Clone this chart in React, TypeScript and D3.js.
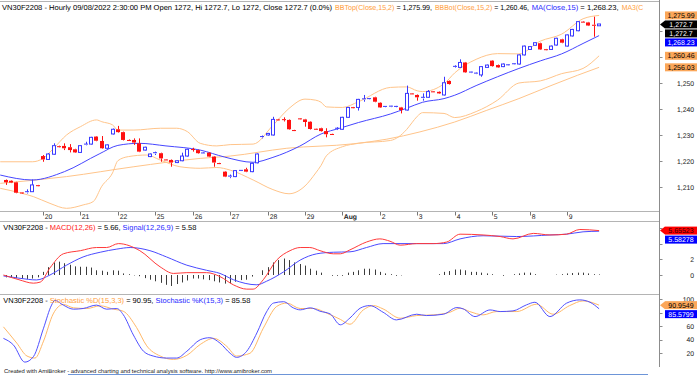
import React, { useLayoutEffect, useRef, useState } from "react";
import * as d3 from "d3";

const FONT = "'Liberation Sans', Arial, Helvetica, sans-serif";

// ---------- candles (hourly, 7 bars per day) ----------
const openP = [
  1212.7, 1212.4, 1211.8, 1207.9, 1207.9, 1208.2, 1210.7,
  1221.9, 1220.6, 1222.6, 1225.7, 1225.8, 1225.3, 1224.5,
  1223.3, 1226.2, 1226.5, 1229.4, 1227.7, 1224.9, 1230.4,
  1232.2, 1231.1, 1228.1, 1228.1, 1226.8, 1224.2, 1221.7,
  1222.8, 1223.0, 1220.6, 1220.4, 1219.4, 1220.1, 1221.9,
  1224.6, 1224.2, 1222.9, 1223.2, 1221.7, 1219.2, 1215.9,
  1213.8, 1214.0, 1216.2, 1216.8, 1215.9, 1219.3, 1229.0,
  1230.0, 1230.0, 1236.0, 1236.1, 1235.8, 1231.9, 1236.4,
  1236.0, 1235.1, 1232.4, 1232.6, 1231.5, 1230.4, 1232.3,
  1232.2, 1236.8, 1240.7, 1240.6, 1243.7, 1243.8, 1244.5,
  1242.4, 1240.8, 1240.9, 1240.9, 1240.6, 1239.6, 1246.0,
  1245.4, 1244.0, 1244.5, 1246.8, 1246.6, 1245.4, 1250.8,
  1256.1, 1256.0, 1257.9, 1254.0, 1253.6, 1253.1, 1256.0,
  1258.6, 1256.9, 1256.3, 1256.8, 1257.2, 1257.3, 1260.8,
  1262.9, 1264.5, 1265.3, 1263.0, 1262.9, 1264.6, 1266.8,
  1264.2, 1268.1, 1270.1, 1273.6, 1273.3, 1272.4, 1272.0,
];
const highP = [
  1212.9, 1212.6, 1212.0, 1208.0, 1209.1, 1212.9, 1210.8,
  1222.3, 1223.0, 1226.8, 1225.9, 1226.8, 1226.5, 1224.7,
  1226.1, 1227.4, 1229.3, 1229.6, 1229.6, 1226.4, 1232.5,
  1233.5, 1231.3, 1228.3, 1228.7, 1228.7, 1225.5, 1222.9,
  1223.6, 1223.2, 1220.7, 1220.6, 1220.3, 1223.2, 1224.7,
  1225.1, 1224.4, 1223.3, 1223.4, 1221.9, 1219.3, 1216.1,
  1214.8, 1216.5, 1216.5, 1217.4, 1219.3, 1222.9, 1229.8,
  1230.8, 1237.0, 1236.2, 1236.8, 1236.0, 1232.0, 1236.5,
  1236.2, 1235.3, 1232.5, 1232.8, 1232.6, 1230.5, 1233.0,
  1237.0, 1240.8, 1240.8, 1243.9, 1245.4, 1244.1, 1244.7,
  1242.6, 1241.1, 1241.2, 1241.2, 1240.8, 1249.0, 1246.1,
  1245.6, 1246.0, 1247.3, 1246.9, 1246.8, 1252.4, 1251.0,
  1256.8, 1259.1, 1258.1, 1254.3, 1254.0, 1256.5, 1257.1,
  1258.8, 1257.1, 1257.5, 1257.1, 1257.5, 1261.0, 1264.4,
  1264.2, 1265.7, 1265.5, 1263.1, 1264.4, 1267.4, 1267.0,
  1268.7, 1270.8, 1273.8, 1273.8, 1273.5, 1275.5, 1272.7,
];
const lowP = [
  1210.8, 1211.5, 1207.6, 1207.7, 1207.5, 1208.1, 1210.4,
  1219.7, 1220.4, 1222.4, 1225.2, 1224.2, 1223.3, 1223.1,
  1223.1, 1226.0, 1226.3, 1227.6, 1224.7, 1224.7, 1230.2,
  1230.9, 1227.9, 1227.8, 1226.2, 1223.4, 1224.0, 1221.5,
  1222.3, 1219.7, 1220.2, 1217.8, 1219.2, 1219.9, 1221.7,
  1223.6, 1222.8, 1222.7, 1221.5, 1217.8, 1218.9, 1213.8,
  1213.4, 1213.8, 1216.0, 1215.7, 1215.7, 1219.1, 1228.7,
  1229.8, 1229.8, 1235.7, 1235.2, 1232.0, 1231.5, 1236.1,
  1233.2, 1232.1, 1232.1, 1231.3, 1229.1, 1230.1, 1231.9,
  1232.0, 1236.6, 1240.4, 1239.4, 1242.8, 1243.7, 1242.6,
  1240.4, 1240.7, 1240.8, 1240.7, 1238.3, 1239.4, 1245.6,
  1243.2, 1243.2, 1244.3, 1246.4, 1245.8, 1245.2, 1249.4,
  1255.8, 1255.8, 1253.9, 1253.9, 1253.5, 1252.4, 1255.8,
  1256.3, 1255.8, 1256.1, 1256.7, 1257.1, 1257.1, 1260.6,
  1262.7, 1264.3, 1262.7, 1262.7, 1262.7, 1264.4, 1265.3,
  1264.0, 1267.9, 1269.9, 1273.2, 1271.9, 1267.8, 1272.0,
];
const closeP = [
  1211.8, 1211.7, 1207.8, 1207.8, 1208.2, 1210.8, 1210.4,
  1220.6, 1222.7, 1225.9, 1225.4, 1224.9, 1224.2, 1223.3,
  1225.9, 1226.5, 1229.1, 1227.8, 1224.9, 1226.2, 1232.2,
  1231.1, 1228.1, 1228.0, 1227.1, 1223.6, 1225.3, 1222.7,
  1223.2, 1221.0, 1220.4, 1219.4, 1220.1, 1221.9, 1224.5,
  1224.3, 1223.0, 1223.1, 1221.7, 1219.4, 1219.0, 1214.0,
  1214.2, 1216.3, 1216.4, 1215.9, 1219.1, 1222.7, 1229.4,
  1230.6, 1236.0, 1235.8, 1235.8, 1232.2, 1231.7, 1236.2,
  1235.0, 1232.3, 1232.2, 1231.5, 1230.3, 1230.2, 1232.6,
  1236.8, 1240.6, 1240.5, 1243.7, 1243.9, 1244.0, 1242.8,
  1240.6, 1241.0, 1241.1, 1241.0, 1239.6, 1246.0, 1245.8,
  1244.5, 1244.5, 1246.7, 1246.6, 1246.0, 1250.1, 1249.6,
  1256.4, 1257.9, 1254.1, 1254.2, 1253.8, 1256.3, 1256.9,
  1256.5, 1256.0, 1257.3, 1257.0, 1257.4, 1260.8, 1264.2,
  1264.0, 1265.5, 1262.9, 1262.8, 1264.2, 1267.2, 1265.5,
  1268.5, 1270.6, 1273.6, 1273.4, 1272.1, 1272.2, 1272.7,
];

const dayLabels = ["20", "21", "22", "25", "26", "27", "28", "29", "Aug", "2", "3", "4", "5", "8", "9"];
const BARS_PER_DAY = 7;

// ---------- overlays: [bar index, value] ----------
const bbTop: [number, number][] = [
  [-1, 1219.7], [5, 1219.7], [7, 1221.0], [9, 1224.9], [11.4, 1230.0], [14, 1233.2], [17, 1235.8],
  [18, 1235.1], [20, 1233.9], [21, 1231.9], [24, 1231.9], [29, 1232.6], [32, 1232.6], [34, 1231.3],
  [36.4, 1226.8], [39.5, 1225.8], [42, 1226.3], [46.3, 1226.5], [50, 1233.7], [53, 1240.2],
  [56, 1243.8], [58, 1243.4], [59, 1242.6], [60, 1240.8], [63, 1240.6], [66, 1242.8], [72, 1248.3],
  [75, 1248.5], [77, 1247.0], [78, 1246.7], [82, 1249.7], [84, 1253.9], [88, 1259.1], [92, 1261.3],
  [96, 1261.2], [100, 1266.1], [104, 1268.8], [108, 1274.7], [111, 1275.99],
];
const bbBot: [number, number][] = [
  [-1, 1209.5], [3, 1207.6], [5.2, 1206.3], [8.3, 1203.7], [11.4, 1201.8], [14.5, 1203.1],
  [16.4, 1204.4], [18, 1210.3], [20, 1215.4], [21, 1220.1], [23, 1221.7], [26.4, 1222.3],
  [28.9, 1220.4], [32.6, 1217.8], [36.4, 1217.2], [39.5, 1217.5], [42, 1216.5], [46.3, 1212.7],
  [50, 1209.0], [53, 1207.4], [56, 1210.4], [58, 1215.4], [59, 1218.3], [60, 1222.0], [63, 1225.5],
  [66, 1226.8], [72, 1227.9], [75, 1232.1], [76, 1234.7], [77, 1237.2], [78, 1238.6], [82, 1238.3],
  [84, 1236.7], [88, 1239.0], [92, 1243.4], [96, 1250.0], [100, 1250.8], [104, 1253.6],
  [108, 1255.6], [111, 1260.46],
];
const ma15: [number, number][] = [
  [-1, 1214.6], [5, 1212.7], [11, 1215.9], [17.5, 1222.7], [21, 1226.0], [25, 1226.8], [30, 1225.8],
  [36.4, 1224.2], [41, 1221.5], [46.3, 1219.5], [50, 1221.4], [55, 1225.7], [59, 1230.4],
  [62.5, 1232.6], [66, 1234.8], [72, 1238.1], [75, 1240.3], [78, 1242.6], [82, 1244.0],
  [84, 1245.3], [88, 1249.0], [92, 1252.4], [96, 1255.6], [100, 1258.5], [104, 1261.2],
  [108, 1265.2], [111, 1268.23],
];
const ma3: [number, number][] = [
  [-1, 1211.4], [11.4, 1214.0], [24, 1217.8], [36.4, 1221.0], [42, 1221.9], [52.6, 1224.9],
  [65, 1226.6], [71.3, 1228.4], [77.5, 1231.2], [84, 1235.0], [90, 1239.5], [96, 1244.0],
  [102, 1249.0], [107, 1253.0], [111, 1256.03],
];

// ---------- MACD ----------
const macdLine: [number, number][] = [
  [-0.4, 0], [2.5, -0.6], [5.2, -1.04], [6.5, -0.9], [8.3, 0.9], [10.8, 2.7], [14, 3.1], [17, 3.5],
  [18.9, 3.5], [21.1, 4.0], [25.1, 3.1], [28.9, 1.04], [31.4, 0.2], [33.9, 0.3], [37.6, 0.3],
  [40.1, -0.2], [42.6, -1.25], [45.1, -1.8], [46.3, -1.8], [48.2, -0.6], [50.7, 1.9], [53.2, 3.1],
  [55.1, 3.5], [56.9, 3.5], [58.8, 3.1], [61.3, 2.7], [62.6, 2.7], [64.4, 3.2], [67.5, 4.2],
  [70, 4.6], [71.9, 4.3], [73.8, 3.8], [76.9, 4.0], [80, 4.0], [82.5, 4.2], [85, 5.2], [89.3, 5.1],
  [92.5, 4.9], [94.9, 4.6], [98.7, 5.3], [101.8, 5.1], [104.9, 5.2], [107.4, 5.8], [111, 5.655],
];
const signalLine: [number, number][] = [
  [-0.4, -0.12], [2.7, -0.42], [5.8, -0.63], [8.3, 0], [11.4, 1.25], [14.5, 2.3], [17.7, 2.9],
  [20.8, 3.3], [23.3, 3.5], [27, 3.1], [30.1, 2.3], [33.9, 1.25], [37.6, 0.6], [40.1, 0.2],
  [42.6, -0.6], [47, -1.25], [48.8, -0.8], [52, 0.4], [55.1, 1.9], [58.2, 2.7], [61.3, 2.9],
  [64.4, 2.95], [67.5, 3.5], [70.6, 4.0], [76.9, 4.0], [81.9, 4.0], [85, 4.6], [89.3, 5.0],
  [95.6, 4.9], [101.8, 5.1], [104.9, 5.2], [108, 5.5], [111, 5.58],
];
const macdHist = [
  -0.3, -0.3, -0.4, -0.45, -0.5, -0.45, -0.3,
  0.4, 1.0, 1.6, 1.7, 1.5, 1.3, 1.1,
  1.05, 1.05, 0.95, 0.6, 0.55, 0.4, 0.6,
  0.55, 0.2, 0.1, -0.05, -0.15, -0.4, -0.6,
  -0.8, -1.0, -1.25, -1.4, -1.15, -0.95, -0.7,
  -0.45, -0.45, -0.55, -0.65, -0.8, -0.95, -1.1,
  -1.05, -0.85, -0.65, -0.6, -0.2, 0.0, 0.6,
  1.0, 1.6, 1.9, 2.1, 1.9, 1.6, 1.4,
  1.2, 0.8, 0.55, 0.3, 0.0, -0.1, -0.1,
  -0.1, 0.3, 0.4, 0.6, 0.8, 0.8, 0.7,
  0.4, 0.2, 0.1, -0.1, -0.05, 0.0, 0.0,
  0.0, 0.0, 0.0, 0.0, 0.1, 0.4, 0.5,
  0.7, 0.7, 0.6, 0.4, 0.4, 0.3, 0.2,
  0.1, 0.0, -0.1, 0.0, 0.1, 0.2, 0.3,
  0.3, 0.1, 0.0, 0.0, 0.0, 0.05, 0.1,
  0.2, 0.25, 0.3, 0.3, 0.2, 0.1, 0.07,
];

// ---------- Stochastic ----------
const stochK: [number, number][] = [
  [-0.4, 42], [1.5, 32], [3.6, 7], [5.2, 15], [7.1, 57], [8.6, 91], [9.2, 98], [10.8, 91],
  [12.7, 85], [14.5, 86], [17, 91], [18.9, 85], [20.8, 86], [22, 77], [23.9, 47], [25.8, 23],
  [27.6, 16], [30.1, 13], [32, 13], [33.9, 23], [36.4, 40], [38.2, 43], [40.1, 35], [42, 20],
  [43.2, 14], [45.1, 23], [47, 50], [48.8, 81], [50.1, 94], [52, 96], [53.8, 87], [55.1, 84],
  [57, 87], [58.8, 82], [60.7, 78], [62.6, 62], [64.4, 72], [66.3, 86.4], [68.1, 90.3],
  [70.6, 80.5], [73.1, 69.2], [76.9, 77.6], [78.7, 75.6], [81.9, 77.6], [84.4, 87.4],
  [85.6, 85.4], [87.8, 74.1], [90.6, 83.9], [92.5, 81.5], [94.9, 82.5], [97.4, 91.3],
  [99, 95.2], [101.8, 74.1], [104.9, 93.8], [107.4, 98.7], [109.3, 95.2], [111, 85.58],
];
const stochD: [number, number][] = [
  [-0.4, 59], [2.1, 35], [4, 16], [5.5, 13], [7.1, 38], [8.9, 78], [10.8, 92], [12.7, 87],
  [15.2, 86], [17.7, 90], [20.2, 85], [22, 82], [24.5, 58], [26.4, 31], [28.9, 16], [31.4, 11],
  [33.9, 17], [36.4, 33], [38.9, 42], [41.4, 30], [43.2, 16], [45.7, 20], [48.2, 57], [50.7, 89],
  [52.6, 94], [55.1, 86], [57.6, 86], [60.1, 79], [62.6, 70], [64.4, 62.8], [66.9, 83.9],
  [68.8, 90.3], [70.6, 85.4], [73.8, 71.7], [76.9, 75.6], [80, 76.6], [83.1, 80.5], [85, 86.4],
  [86.8, 81.5], [89.3, 76.6], [91.8, 81.5], [95.6, 81.5], [99.3, 92.3], [102.4, 77.6],
  [105.5, 90.3], [108, 97.2], [111, 90.95],
];

const priceTicks = [1210, 1220, 1230, 1240, 1250, 1260, 1270];
const priceTickLabels = [1210, 1220, 1230, 1240, 1250];
const macdTicks = [0, 2, 4, 6];
const macdTickLabels = [0, 2];
const stochTicks = [20, 40, 60, 80, 100];
const stochTickLabels = [20, 40, 60, 100];

// ---------- colours ----------
const UP = "#3a3aff";
const DOWN = "#ff1010";
const ORANGE_LINE = "#ffc48a";
const BLUE_LINE = "#4646ff";
const T_ORANGE = "#ffa040";
const T_BLUE = "#2a2aff";
const T_RED = "#ff2020";
const GRID = "#b4b4b4";
const AX = "#8c8c8c";

const AXIS_X = 659.5;

type Lbl = { v: number; text: string; bg: string; fg: string; arrow?: boolean };

function stack(labels: Lbl[], scale: (v: number) => number, gap: number) {
  const out: { y: number; l: Lbl }[] = [];
  let prev = -Infinity;
  labels.forEach((l) => {
    let y = scale(l.v);
    if (y < prev + gap) y = prev + gap;
    out.push({ y, l });
    prev = y;
  });
  return out;
}

function ValueLabels({ items }: { items: { y: number; l: Lbl }[] }) {
  return (
    <g>
      {items.map(({ y, l }, k) => (
        <g key={k}>
          {l.arrow && <polygon points={`${AXIS_X + 0.5},${y} ${665},${y - 4} ${665},${y + 4}`} fill={l.bg} />}
          <rect x={665} y={y - 4} width={32} height={8} fill={l.bg} />
          <text x={681} y={y + 2.6} textAnchor="middle" fontSize={7} fill={l.fg}>
            {l.text}
          </text>
        </g>
      ))}
    </g>
  );
}

// text stretched horizontally so that it spans the same width as in the reference
function FitText({
  x,
  y,
  width,
  fontSize,
  fill,
  children,
}: {
  x: number;
  y: number;
  width: number;
  fontSize: number;
  fill?: string;
  children: React.ReactNode;
}) {
  const ref = useRef<SVGTextElement>(null);
  const [s, setS] = useState(1);
  useLayoutEffect(() => {
    const el = ref.current;
    if (el) {
      const w = el.getComputedTextLength();
      if (w > 0) setS(width / w);
    }
  }, [width]);
  return (
    <text
      ref={ref}
      x={0}
      y={0}
      transform={`translate(${x},${y}) scale(${s},1)`}
      fontSize={fontSize}
      fill={fill}
      style={{ whiteSpace: "pre" }}
    >
      {children}
    </text>
  );
}

export default function App() {
  const x = d3.scaleLinear().domain([0, 111]).range([5.57, 599.1]);
  const yP = d3.scaleLinear().domain([1210, 1250]).range([187, 83]);
  const yM = d3.scaleLinear().domain([0, 2]).range([275, 259.3]);
  const yS = d3.scaleLinear().domain([20, 100]).range([353.3, 299]);

  const mk = (ys: d3.ScaleLinear<number, number>) =>
    d3
      .line<[number, number]>()
      .x((d) => x(d[0]))
      .y((d) => ys(d[1]))
      .curve(d3.curveMonotoneX);
  const lineP = mk(yP);
  const lineM = mk(yM);
  const lineS = mk(yS);

  const fmt = d3.format(",");

  const mainLabels = stack(
    [
      { v: 1275.99, text: "1,275.99", bg: "#fba75a", fg: "#000" },
      { v: 1272.7, text: "1,272.7", bg: "#000", fg: "#fff", arrow: true },
      { v: 1272.7, text: "1,272.7", bg: "#000", fg: "#fff" },
      { v: 1268.23, text: "1,268.23", bg: "#0000ff", fg: "#fff" },
      { v: 1260.46, text: "1,260.46", bg: "#fba75a", fg: "#000" },
      { v: 1256.03, text: "1,256.03", bg: "#fba75a", fg: "#000" },
    ],
    yP,
    9
  );
  const macdLabels = stack(
    [
      { v: 5.65523, text: "5.65523", bg: "#ff0000", fg: "#300000", arrow: true },
      { v: 5.58278, text: "5.58278", bg: "#0000ff", fg: "#fff" },
    ],
    yM,
    9
  );
  const stochLabels = stack(
    [
      { v: 90.9549, text: "90.9549", bg: "#fba75a", fg: "#000", arrow: true },
      { v: 85.5799, text: "85.5799", bg: "#0000ff", fg: "#fff" },
    ],
    yS,
    9
  );

  return (
    <svg
      width={700}
      height={376}
      style={{ position: "absolute", left: 0, top: 0, display: "block", background: "#fff" }}
      fontFamily={FONT}
      textRendering="geometricPrecision"
    >
      <defs>
        <clipPath id="cMain">
          <rect x={0} y={2} width={AXIS_X} height={209.5} />
        </clipPath>
        <clipPath id="cMacd">
          <rect x={0} y={222} width={AXIS_X} height={72} />
        </clipPath>
        <clipPath id="cStoch">
          <rect x={0} y={295} width={AXIS_X} height={72} />
        </clipPath>
      </defs>
      <rect x={0} y={0} width={700} height={376} fill="#fff" />

      {/* frame lines */}
      <line x1={0} x2={AXIS_X} y1={1.5} y2={1.5} stroke={GRID} />
      <line x1={0} x2={AXIS_X} y1={211.5} y2={211.5} stroke={GRID} />
      <line x1={0} x2={AXIS_X} y1={221.5} y2={221.5} stroke={GRID} />
      <line x1={0} x2={AXIS_X} y1={294.5} y2={294.5} stroke={GRID} />
      <line x1={AXIS_X} x2={AXIS_X} y1={0} y2={367} stroke={AX} />

      {/* ---------- main panel ---------- */}
      <g clipPath="url(#cMain)" fill="none" strokeWidth={1}>
        <path d={lineP(ma3) || ""} stroke={ORANGE_LINE} />
        <path d={lineP(bbTop) || ""} stroke={ORANGE_LINE} />
        <path d={lineP(bbBot) || ""} stroke={ORANGE_LINE} />
        <path d={lineP(ma15) || ""} stroke={BLUE_LINE} />
        {closeP.map((c, i) => {
          const o = openP[i];
          const h = highP[i];
          const l = lowP[i];
          const px = Math.round(x(i));
          const up = c >= o;
          const col = up ? UP : DOWN;
          const yT = yP(Math.max(o, c));
          const yB = yP(Math.min(o, c));
          const bh = Math.max(yB - yT, 1);
          return (
            <g key={i}>
              <line x1={px + 0.5} x2={px + 0.5} y1={yP(h)} y2={yT} stroke={col} />
              <line x1={px + 0.5} x2={px + 0.5} y1={yT + bh} y2={yP(l)} stroke={col} />
              {up ? (
                bh > 1.5 ? (
                  <rect x={px - 1.5} y={yT} width={3} height={bh} fill="#fff" stroke={col} />
                ) : (
                  <rect x={px - 2} y={yT - 0.5} width={4} height={1} fill={col} />
                )
              ) : (
                <rect x={px - 2} y={yT} width={4} height={bh} fill={col} />
              )}
            </g>
          );
        })}
      </g>

      {/* main title */}
      <FitText x={2} y={10} width={330} fontSize={7.3} fill="#000">
        VN30F2208 - Hourly 09/08/2022 2:30:00 PM Open 1272, Hi 1272.7, Lo 1272, Close 1272.7 (0.0%)
      </FitText>
      <FitText x={335} y={10} width={97} fontSize={7.3}>
        <tspan fill={T_ORANGE}>BBTop(Close,15,2)</tspan>
        <tspan fill="#000"> = 1,275.99,</tspan>
      </FitText>
      <FitText x={435} y={10} width={94} fontSize={7.3}>
        <tspan fill={T_ORANGE}>BBBot(Close,15,2)</tspan>
        <tspan fill="#000"> = 1,260.46,</tspan>
      </FitText>
      <FitText x={531.7} y={10} width={87} fontSize={7.3}>
        <tspan fill={T_BLUE}>MA(Close,15)</tspan>
        <tspan fill="#000"> = 1,268.23,</tspan>
      </FitText>
      <FitText x={621.7} y={10} width={21.5} fontSize={7.3} fill={T_ORANGE}>
        MA3(C
      </FitText>

      {/* price axis */}
      {priceTicks.map((t) => (
        <line key={t} x1={AXIS_X} x2={AXIS_X + 3} y1={Math.round(yP(t)) + 0.5} y2={Math.round(yP(t)) + 0.5} stroke={AX} />
      ))}
      {priceTickLabels.map((t) => (
        <text key={t} x={694} y={yP(t) + 2.5} fontSize={6.8} textAnchor="end" fill="#222">
          {fmt(t)}
        </text>
      ))}
      <ValueLabels items={mainLabels} />

      {/* date strip */}
      {dayLabels.map((d, k) => {
        const tx = Math.round(x((k + 1) * BARS_PER_DAY)) + 0.5;
        return (
          <g key={d + k}>
            <line x1={tx} x2={tx} y1={212} y2={215.5} stroke="#777" />
            <text x={tx + 1.3} y={218.8} fontSize={6.8} fontWeight={d === "Aug" ? "bold" : "normal"} fill="#222">
              {d}
            </text>
          </g>
        );
      })}

      {/* ---------- MACD panel ---------- */}
      <g clipPath="url(#cMacd)" fill="none">
        {macdHist.map((v, i) => {
          const px = Math.round(x(i)) + 0.5;
          return <line key={i} x1={px} x2={px} y1={yM(0)} y2={yM(v)} stroke="#3c3c3c" />;
        })}
        <path d={lineM(signalLine) || ""} stroke="#4a4aff" />
        <path d={lineM(macdLine) || ""} stroke="#ff3a3a" />
      </g>
      <FitText x={3.3} y={229.5} width={193} fontSize={7.3}>
        <tspan fill="#000">VN30F2208 - </tspan>
        <tspan fill={T_RED}>MACD(12,26)</tspan>
        <tspan fill="#000"> = 5.66, </tspan>
        <tspan fill={T_BLUE}>Signal(12,26,9)</tspan>
        <tspan fill="#000"> = 5.58</tspan>
      </FitText>
      {macdTicks.map((t) => (
        <line key={t} x1={AXIS_X} x2={AXIS_X + 3} y1={Math.round(yM(t)) + 0.5} y2={Math.round(yM(t)) + 0.5} stroke={AX} />
      ))}
      {macdTickLabels.map((t) => (
        <text key={t} x={694} y={yM(t) + 2.5} fontSize={6.8} textAnchor="end" fill="#222">
          {t}
        </text>
      ))}
      <ValueLabels items={macdLabels} />

      {/* ---------- Stochastic panel ---------- */}
      <g clipPath="url(#cStoch)" fill="none">
        <path d={lineS(stochD) || ""} stroke="#ffb868" />
        <path d={lineS(stochK) || ""} stroke="#5050ff" />
      </g>
      <FitText x={3.3} y={302.5} width={247} fontSize={7.3}>
        <tspan fill="#000">VN30F2208 - </tspan>
        <tspan fill={T_ORANGE}>Stochastic %D(15,3,3)</tspan>
        <tspan fill="#000"> = 90.95, </tspan>
        <tspan fill={T_BLUE}>Stochastic %K(15,3)</tspan>
        <tspan fill="#000"> = 85.58</tspan>
      </FitText>
      {stochTicks.map((t) => (
        <line key={t} x1={AXIS_X} x2={AXIS_X + 3} y1={Math.round(yS(t)) + 0.5} y2={Math.round(yS(t)) + 0.5} stroke={AX} />
      ))}
      {stochTickLabels.map((t) => (
        <text key={t} x={694} y={yS(t) + 2.5} fontSize={6.8} textAnchor="end" fill="#222">
          {t}
        </text>
      ))}
      <ValueLabels items={stochLabels} />

      {/* footer */}
      <FitText x={4} y={372.5} width={268} fontSize={5.6} fill="#222">
        Created with AmiBroker - advanced charting and technical analysis software. http://www.amibroker.com
      </FitText>
      <line x1={68} x2={648} y1={374.5} y2={374.5} stroke="#6d95d8" />
    </svg>
  );
}
